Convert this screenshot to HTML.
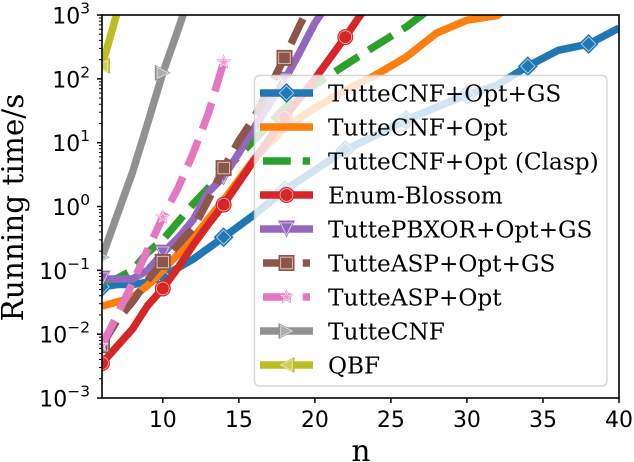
<!DOCTYPE html>
<html lang="en">
<head>
<meta charset="utf-8">
<title>Running time chart</title>
<style>
html,body{margin:0;padding:0;background:#fff;width:634px;height:462px;overflow:hidden}
svg{display:block}
.tick{font-family:"DejaVu Sans",sans-serif;font-size:22px;fill:#000}
.serif{font-family:"DejaVu Serif",serif;fill:#000}
</style>
</head>
<body>
<svg id="chart" width="634" height="462" viewBox="0 0 634 462" xmlns="http://www.w3.org/2000/svg">
<defs><clipPath id="plot-clip"><rect x="102" y="15" width="517" height="383"/></clipPath></defs>
<rect width="634" height="462" fill="#fff"/>
<g id="series-layer" clip-path="url(#plot-clip)"></g>
<g id="axes-layer"></g>
<text class="serif" font-size="29.5" text-anchor="middle" transform="translate(23 207.5) rotate(-90)">Running time/s</text>
<text class="serif" font-size="29.5" text-anchor="middle" x="361" y="461">n</text>
<g id="legend-layer"></g>
</svg>
<script>
const xTickValues = [10, 15, 20, 25, 30, 35, 40];
const yTickExponents = [-3, -2, -1, 0, 1, 2, 3];

const tutteCnfOptGsN = [6, 7, 8, 9, 10, 12, 14, 16, 18, 20, 22, 24, 26, 28, 30, 32, 34, 36, 38, 40];
const tutteCnfOptGsT = [0.055, 0.06, 0.06, 0.065, 0.08, 0.15, 0.33, 0.74, 1.8, 3.7, 7.7, 13, 22.7, 36, 56, 80, 158, 280, 351, 625];
const tutteCnfOptN = [6, 7, 8, 9, 10, 12, 13, 14, 16, 18, 20, 22, 24, 26, 28, 30, 32, 33];
const tutteCnfOptT = [0.0275, 0.032, 0.038, 0.058, 0.1, 0.32, 0.64, 1.26, 5.5, 17, 35, 66, 115, 219, 520, 830, 980, 1500];
const claspN = [6, 7, 8, 9, 10, 12, 14, 16, 18, 20, 22, 24, 26, 27, 28];
const claspT = [0.066, 0.075, 0.1, 0.19, 0.3, 1.1, 3.5, 11, 35, 80, 165, 330, 650, 980, 1500];
const enumBlossomN = [6, 7, 8, 9, 10, 11, 12, 13, 14, 16, 18, 20, 22, 23, 24];
const enumBlossomT = [0.0035, 0.0065, 0.012, 0.028, 0.052, 0.11, 0.25, 0.53, 1.07, 5.3, 24.6, 100, 450, 1000, 1900];
const pbxorN = [6, 7, 8, 9, 10, 11, 12, 13, 14, 15, 16, 17, 18, 19, 20, 21];
const pbxorT = [0.073, 0.073, 0.073, 0.1, 0.186, 0.32, 0.62, 1.69, 2.9, 6.9, 17, 40, 95, 260, 750, 1700];
const aspGsN = [6, 7, 8, 9, 10, 11, 12, 13, 14, 15, 16, 17, 18, 19, 20];
const aspGsT = [0.0067, 0.0166, 0.032, 0.07, 0.135, 0.25, 0.46, 1.27, 4, 10.7, 24.6, 72, 213, 690, 2000];
const aspOptN = [6, 7, 8, 9, 10, 11, 12, 13, 14];
const aspOptT = [0.0067, 0.02, 0.063, 0.21, 0.68, 1.95, 6.9, 29, 183];
const tutteCnfN = [6, 7, 8, 9, 10, 11, 12];
const tutteCnfT = [0.16, 0.74, 3.4, 20, 124, 585, 3000];
const qbfN = [6, 7];
const qbfT = [160, 1100];

const legendLabels = ["TutteCNF+Opt+GS", "TutteCNF+Opt", "TutteCNF+Opt (Clasp)", "Enum-Blossom", "TuttePBXOR+Opt+GS", "TutteASP+Opt+GS", "TutteASP+Opt", "TutteCNF", "QBF"];
const seriesColors = ["#1f77b4", "#ff7f0e", "#2ca02c", "#d62728", "#9467bd", "#8c564b", "#e377c2", "#919191", "#bcbd22"];
const seriesMarkers = ["diamond", "", "", "circle", "down", "square", "star", "right", "left"];
const seriesDashed = [false, false, true, false, false, true, true, false, false];
const seriesN = [tutteCnfOptGsN, tutteCnfOptN, claspN, enumBlossomN, pbxorN, aspGsN, aspOptN, tutteCnfN, qbfN];
const seriesT = [tutteCnfOptGsT, tutteCnfOptT, claspT, enumBlossomT, pbxorT, aspGsT, aspOptT, tutteCnfT, qbfT];
const markerEvery = 4;

const NS = "http://www.w3.org/2000/svg";
const PL = 102, PR = 619, PT = 15, PB = 398;
function xScale(n) { return PL + (n - 6) * (PR - PL) / 34; }
function yScale(v) { return PT + (3 - Math.log10(v)) * (PB - PT) / 6; }
function make(tag, attrs) {
  const el = document.createElementNS(NS, tag);
  for (const k in attrs) el.setAttribute(k, attrs[k]);
  return el;
}
function markerPoints(kind, cx, cy, s) {
  if (kind === "diamond") return [[cx, cy - s], [cx + s, cy], [cx, cy + s], [cx - s, cy]];
  if (kind === "square") return [[cx - s, cy - s], [cx + s, cy - s], [cx + s, cy + s], [cx - s, cy + s]];
  if (kind === "down") return [[cx - s, cy - s], [cx + s, cy - s], [cx, cy + s]];
  if (kind === "right") return [[cx - s, cy - s], [cx + s, cy], [cx - s, cy + s]];
  if (kind === "left") return [[cx + s, cy - s], [cx - s, cy], [cx + s, cy + s]];
  if (kind === "star") {
    const pts = [];
    for (let i = 0; i < 10; i++) {
      const r = i % 2 ? s * 0.42 : s;
      const a = -Math.PI / 2 + i * Math.PI / 5;
      pts.push([cx + r * Math.cos(a), cy + r * Math.sin(a)]);
    }
    return pts;
  }
  return [];
}
function markerSize(kind) {
  return { diamond: 10, square: 8, down: 8.5, right: 8, left: 8, star: 8, circle: 8 }[kind];
}
function drawMarker(parent, kind, cx, cy, color) {
  const s = markerSize(kind);
  const g = make("g", {});
  
  
  if (kind === "circle") {
    g.appendChild(make("circle", { cx: cx, cy: cy, r: s, fill: color }));
    g.appendChild(make("circle", { cx: cx, cy: cy, r: s * 0.8, fill: "none", stroke: "#fff", "stroke-width": 0.7, "stroke-opacity": 0.75 }));
  } else {
    const str = pts => pts.map(p => p[0].toFixed(1) + "," + p[1].toFixed(1)).join(" ");
    const hollow = kind === "star" || kind === "right" || kind === "left";
    g.appendChild(make("polygon", { points: str(markerPoints(kind, cx, cy, s)), fill: color }));
    g.appendChild(make("polygon", { points: str(markerPoints(kind, cx, cy, s * 0.72)), fill: hollow ? "#fff" : "none", "fill-opacity": hollow ? 0.25 : 0, stroke: "#fff", "stroke-width": 0.8, "stroke-opacity": 0.75 }));
  }
  parent.appendChild(g);
}

const seriesLayer = document.getElementById("series-layer");
seriesN.forEach(function (ns, i) {
  const ts = seriesT[i];
  const g = make("g", {});
  
  
  const d = ns.map((n, j) => (j ? "L" : "M") + xScale(n).toFixed(2) + " " + yScale(ts[j]).toFixed(2)).join(" ");
  const path = make("path", { d: d, fill: "none", stroke: seriesColors[i], "stroke-width": 7.5, "stroke-linejoin": "round" });
  if (seriesDashed[i]) path.setAttribute("stroke-dasharray", "27.75 12");
  g.appendChild(path);
  if (seriesMarkers[i]) {
    ns.forEach(function (n, j) {
      if ((n - 6) % markerEvery === 0) drawMarker(g, seriesMarkers[i], xScale(n), yScale(ts[j]), seriesColors[i]);
    });
  }
  seriesLayer.appendChild(g);
});

const axes = document.getElementById("axes-layer");
function tickLine(x1, y1, x2, y2, w) {
  const t = make("line", { x1: x1, y1: y1, x2: x2, y2: y2, stroke: "#000", "stroke-width": w });
  
  
  axes.appendChild(t);
}
xTickValues.forEach(function (v) {
  const x = xScale(v);
  tickLine(x, PB, x, PB + 5, 1.5);
  const t = make("text", { class: "tick", x: x, y: 427, "text-anchor": "middle" });
  
  
  t.textContent = String(v);
  axes.appendChild(t);
});
yTickExponents.forEach(function (e) {
  const y = yScale(Math.pow(10, e));
  tickLine(PL, y, PL - 5, y, 1.5);
  if (e < 3) {
    for (let m = 2; m < 10; m++) {
      const my = yScale(m * Math.pow(10, e));
      tickLine(PL, my, PL - 3, my, 1);
    }
  }
  const t = make("text", { class: "tick", x: 90, y: y + 8.5, "text-anchor": "end" });
  
  
  const base = make("tspan", {});
  base.textContent = "10";
  const sup = make("tspan", { dy: -10, "font-size": 15.4 });
  sup.textContent = e < 0 ? "\u2212" + Math.abs(e) : String(e);
  t.appendChild(base);
  t.appendChild(sup);
  axes.appendChild(t);
});
const frame = make("rect", { x: PL, y: PT, width: PR - PL, height: PB - PT, fill: "none", stroke: "#000", "stroke-width": 1.6 });


axes.appendChild(frame);

const legend = document.getElementById("legend-layer");
const box = make("rect", { x: 254.5, y: 75.5, width: 352.5, height: 310.5, rx: 5, fill: "#fff", "fill-opacity": 0.8, stroke: "#ccc", "stroke-opacity": 0.8, "stroke-width": 1.4 });


legend.appendChild(box);
legendLabels.forEach(function (label, i) {
  const y = 93 + i * 34;
  const g = make("g", {});
  
  
  const line = seriesDashed[i]
    ? make("line", { x1: 263, y1: y, x2: 310, y2: y, stroke: seriesColors[i], "stroke-width": 7.5, "stroke-dasharray": "27.75 12" })
    : make("line", { x1: 260, y1: y, x2: 313, y2: y, stroke: seriesColors[i], "stroke-width": 7.5 });
  g.appendChild(line);
  if (seriesMarkers[i]) drawMarker(g, seriesMarkers[i], 286.5, y, seriesColors[i]);
  const t = make("text", { class: "serif", x: 328, y: y + 8.5, "font-size": 23.2 });
  t.textContent = label;
  g.appendChild(t);
  legend.appendChild(g);
});
</script>
</body>
</html>
